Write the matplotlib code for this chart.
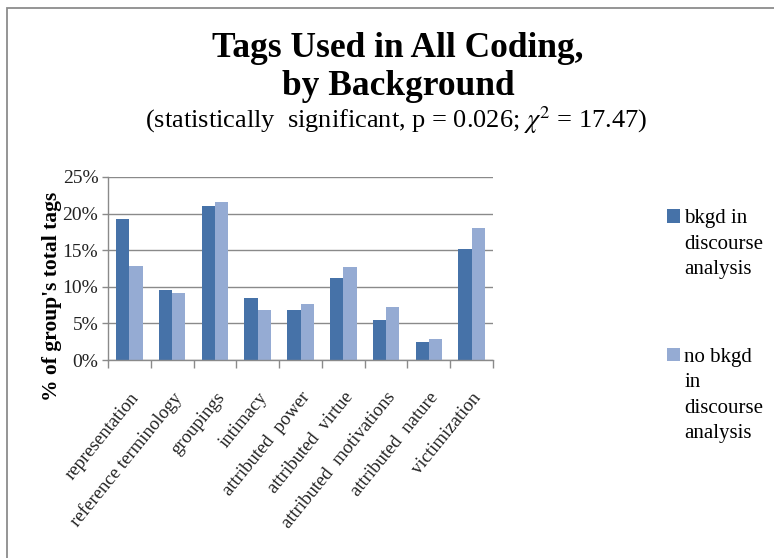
import matplotlib
matplotlib.use('Agg')
import matplotlib.pyplot as plt
from matplotlib.patches import Rectangle
from matplotlib.ticker import FuncFormatter, MultipleLocator
import numpy as np

CATEGORIES = ['representation', 'reference terminology', 'groupings',
              'intimacy', 'attributed  power', 'attributed  virtue',
              'attributed  motivations', 'attributed  nature',
              'victimization']
BKGD = [19.2, 9.6, 21.1, 8.5, 6.9, 11.2, 5.4, 2.5, 15.1]
NO_BKGD = [12.9, 9.1, 21.6, 6.9, 7.6, 12.7, 7.3, 2.9, 18.0]
SERIES_LABELS = ['bkgd in\ndiscourse\nanalysis',
                 'no bkgd\nin\ndiscourse\nanalysis']

DARK = '#4672a8'
LIGHT = '#95abd3'
GRID = '#8a8a8a'
SERIF = 'Liberation Serif'

plt.rcParams['font.family'] = SERIF
plt.rcParams['mathtext.fontset'] = 'stix'

fig = plt.figure(figsize=(7.74, 5.58), dpi=100)
ax = fig.add_axes([0.1395, 0.3548, 0.4975, 0.328])

x = np.arange(len(CATEGORIES))
width = 0.31
ax.bar(x - width / 2, BKGD, width, color=DARK, label=SERIES_LABELS[0])
ax.bar(x + width / 2, NO_BKGD, width, color=LIGHT, label=SERIES_LABELS[1])

ax.set_xlim(-0.5, len(CATEGORIES) - 0.5)
ax.set_ylim(0, 25)
ax.yaxis.set_major_locator(MultipleLocator(5))
ax.yaxis.set_major_formatter(FuncFormatter(lambda v, p: '%d%%' % v))
ax.yaxis.grid(True, color=GRID, linewidth=1)
ax.set_axisbelow(True)

ax.set_xticks(x)
ax.set_xticklabels(CATEGORIES, rotation=51, ha='right', va='top',
                   rotation_mode='anchor', fontsize=13.5, color='#222222')
ax.set_xticks(np.arange(len(CATEGORIES) + 1) - 0.5, minor=True)
ax.tick_params(axis='x', which='major', length=0, pad=21)
ax.tick_params(axis='x', which='minor', length=6, color=GRID, width=1)
ax.tick_params(axis='y', length=4, color=GRID, width=1, labelsize=14,
               labelcolor='#222222', pad=3)

for side in ('top', 'right'):
    ax.spines[side].set_visible(False)
for side in ('left', 'bottom'):
    ax.spines[side].set_color(GRID)
    ax.spines[side].set_linewidth(1)

ax.set_ylabel("% of group's total tags", fontsize=15.5, fontweight='bold')
ax.yaxis.set_label_coords(-0.12, 0.35)

fig.text(0.514, 0.898, 'Tags Used in All Coding,', ha='center',
         va='baseline', fontsize=25.5, fontweight='bold')
fig.text(0.514, 0.830, 'by Background', ha='center', va='baseline',
         fontsize=25.5, fontweight='bold')
fig.text(0.512, 0.771,
         r'(statistically  significant, p = 0.026; $\chi^2$ = 17.47)',
         ha='center', va='baseline', fontsize=19)

leg = fig.legend(loc='upper left', bbox_to_anchor=(0.862, 0.625),
                 frameon=False, prop={'family': SERIF, 'size': 15},
                 handlelength=0.62, handleheight=0.62, handletextpad=0.2,
                 labelspacing=3.3, borderpad=0, borderaxespad=0)
for text in leg.get_texts():
    text.set_linespacing(1.46)
for column in leg._legend_handle_box.get_children():
    for entry in column.get_children():
        entry.align = 'top'

fig.add_artist(Rectangle((7 / 774, -0.2), 1.2, 1.2 - 8 / 558,
                         transform=fig.transFigure, fill=False,
                         edgecolor='#8c8c8c', linewidth=1.3))

fig.savefig('out.png', dpi=100)
